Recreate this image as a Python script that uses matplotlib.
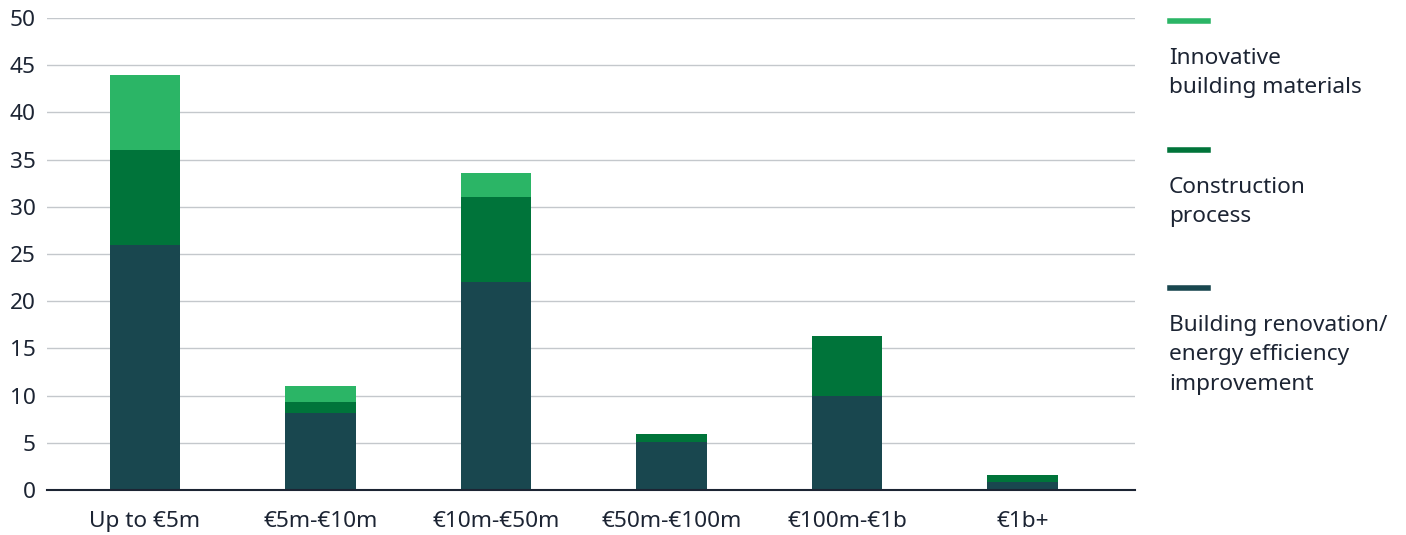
import numpy as np
import matplotlib.pyplot as plt
from matplotlib.lines import Line2D

plt.rcParams['font.family'] = ['Noto Sans', 'DejaVu Sans']

# Data
categories = ["Up to €5m", "€5m-€10m", "€10m-€50m", "€50m-€100m", "€100m-€1b", "€1b+"]
renovation = [26, 8.2, 22, 5.1, 10, 0.8]
construction = [10, 1.1, 9, 0.85, 6.3, 0.8]
innovative = [8, 1.7, 2.6, 0, 0, 0]

series_labels = ["Innovative\nbuilding materials", "Construction\nprocess",
                 "Building renovation/\nenergy efficiency\nimprovement"]
colors = ["#2bb566", "#00743a", "#19474f"]
text_color = "#1c2433"

fig = plt.figure(figsize=(14.06, 5.35), dpi=100)
ax = fig.add_axes([0.0334, 0.0841, 0.7738, 0.8823])

x = np.arange(len(categories))
w = 0.4
ren = np.array(renovation)
con = np.array(construction)
inn = np.array(innovative)
ax.bar(x, ren, w, color=colors[2], zorder=3)
ax.bar(x, con, w, bottom=ren, color=colors[1], zorder=3)
ax.bar(x, inn, w, bottom=ren + con, color=colors[0], zorder=3)

ax.set_xlim(-0.558, 5.64)
ax.set_ylim(0, 50)
ax.set_yticks(range(0, 51, 5))
ax.set_xticks(x)
ax.set_xticklabels(categories)
ax.tick_params(length=0, labelsize=16.3, colors=text_color)
ax.tick_params(axis='y', pad=8)
ax.tick_params(axis='x', pad=15)
ax.grid(axis='y', color="#c4c8cc", linewidth=1, zorder=0)
for s in ["top", "right", "left"]:
    ax.spines[s].set_visible(False)
ax.spines["bottom"].set_color("#1c2433")
ax.spines["bottom"].set_linewidth(1.5)
ax.spines["bottom"].set_zorder(4)

# legend on the right
line_y = [21, 150, 288]
for lbl, col, ly in zip(series_labels, colors, line_y):
    fy = 1 - ly / 535
    fig.add_artist(Line2D([1170 / 1406, 1208 / 1406], [fy, fy], color=col, linewidth=4))
    fig.text(1169 / 1406, 1 - (ly + 27) / 535, lbl, fontsize=16.3, color=text_color,
             va="top", ha="left", linespacing=1.52)

fig.savefig("out.png", dpi=100)
